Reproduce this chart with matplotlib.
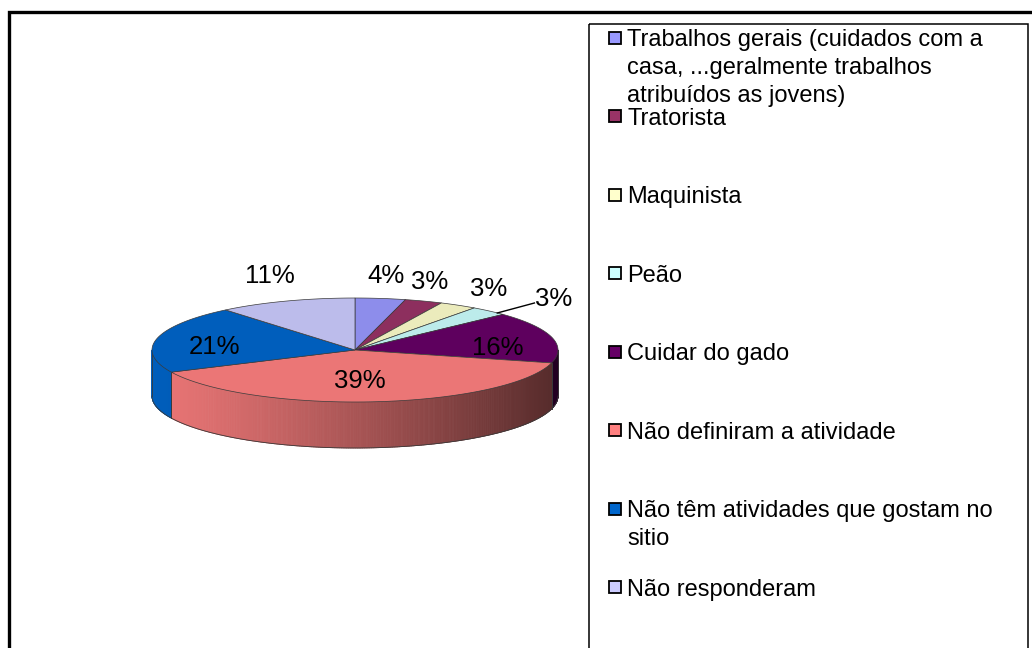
import numpy as np
import matplotlib.pyplot as plt
from matplotlib.patches import Polygon, Rectangle
from matplotlib.collections import PolyCollection
from matplotlib.colors import to_rgb

# data
categories = [
    "Trabalhos gerais (cuidados com a\ncasa, ...geralmente trabalhos\natribuídos as jovens)",
    "Tratorista",
    "Maquinista",
    "Peão",
    "Cuidar do gado",
    "Não definiram a atividade",
    "Não têm atividades que gostam no\nsitio",
    "Não responderam",
]
percents = [4, 3, 3, 3, 16, 39, 21, 11]
colors = ["#9999FF", "#993366", "#FFFFCC", "#CCFFFF",
          "#660066", "#FF8080", "#0066CC", "#CCCCFF"]

plt.rcParams['font.family'] = ['Liberation Sans', 'DejaVu Sans']

W, H = 1032, 648
fig = plt.figure(figsize=(W / 100, H / 100), dpi=100)
ax = fig.add_axes([0, 0, 1, 1])
ax.set_xlim(0, W)
ax.set_ylim(H, 0)
ax.axis('off')

# outer frame and legend box
ax.plot([9, 9, W], [H, 12, 12], color='black', lw=2.4, solid_joinstyle='miter')
ax.add_patch(Rectangle((589, 24), 439, 700, fill=False, ec='black', lw=1.1))

# pie geometry (pixels)
cx, cy, rx, ry, depth = 355, 350, 203, 52, 46


def ell(theta, dy=0.0):
    t = np.radians(theta)
    return cx + rx * np.cos(t), cy - ry * np.sin(t) + dy


def shade(c, f):
    return tuple(np.clip(np.array(to_rgb(c)) * f, 0, 1))


bounds = 90 - np.concatenate([[0], np.cumsum(percents)]) * 3.6
edge_col = '#3a3a3a'

# side walls (only the front half is visible), darker to the right
for i, col in enumerate(colors):
    a, b = bounds[i + 1], bounds[i]
    lo, hi = max(a, -180), min(b, 0)
    if lo >= hi:
        continue
    ts = np.linspace(lo, hi, int((hi - lo) * 2) + 2)
    quads, fcs = [], []
    for t0, t1 in zip(ts[:-1], ts[1:]):
        x0, y0 = ell(t0)
        x1, y1 = ell(t1)
        quads.append([(x0, y0), (x1, y1), (x1, y1 + depth), (x0, y0 + depth)])
        tn = ((x0 + x1) / 2 - (cx - rx)) / (2 * rx)
        fcs.append(shade(col, 0.92 * (1 - 0.64 * tn ** 1.2)))
    ax.add_collection(PolyCollection(quads, facecolors=fcs, edgecolors=fcs,
                                     linewidths=0.6, zorder=1))
    for t in (lo, hi):
        if -180 < t < 0:
            x, y = ell(t)
            ax.plot([x, x], [y, y + depth], color=edge_col, lw=0.6, zorder=1.5)

# outline of the side
tt = np.linspace(-180, 0, 200)
bx, by = ell(tt, depth)
ax.plot(bx, by, color=edge_col, lw=0.6, zorder=1.5)
for t in (-180, 0):
    x, y = ell(t)
    ax.plot([x, x], [y, y + depth], color=edge_col, lw=0.6, zorder=1.5)

# top face
for i, col in enumerate(colors):
    ts = np.linspace(bounds[i + 1], bounds[i], 80)
    xs, ys = ell(ts)
    pts = [(cx, cy)] + list(zip(xs, ys))
    ax.add_patch(Polygon(pts, closed=True, fc=shade(col, 0.92), ec=edge_col,
                         lw=0.5, zorder=2))

# percentage labels
lab_size = 18.5
cap = 0.716 * lab_size * 100 / 72
nudges = [(2, 3), (-4, 5), (15, 6), (44, 7), (5, 5), (-9, -7), (-2, 3), (-4, -1)]
for i, p in enumerate(percents):
    mid = (bounds[i] + bounds[i + 1]) / 2
    c, s = np.cos(np.radians(mid)), np.sin(np.radians(mid))
    txt = f"{p}%"
    if p >= 15:
        x, y = cx + 0.7 * rx * c, cy - 0.7 * ry * s
    else:
        w = 0.556 * len(txt) * 18 * 100 / 72 * 0.9
        ex, ey = ell(mid)
        x, y = ex + c * (18 + w / 2), ey - s * (18 + 10)
    x += nudges[i][0]
    y += nudges[i][1]
    ax.text(x, y + cap / 2, txt, fontsize=lab_size, ha='center', va='baseline',
            color='black', zorder=3)
    if i == 3:
        ex, ey = ell(mid)
        ax.plot([ex + 8, x - 19], [ey + 2, y + 6], color='black', lw=1.0, zorder=3)

# legend
leg_size = 17
leg_cap = 0.70 * leg_size * 100 / 72
for i, (cat, col) in enumerate(zip(categories, colors)):
    yi = 38 + 78.5 * i
    ax.add_patch(Rectangle((609, yi - 6.5), 12, 12, fc=col, ec='black', lw=1.3,
                           zorder=3))
    for k, line in enumerate(cat.split('\n')):
        ax.text(627, yi + leg_cap / 2 + 28 * k, line, fontsize=leg_size,
                ha='left', va='baseline', color='black', zorder=3)

fig.savefig('out.png', dpi=100)
